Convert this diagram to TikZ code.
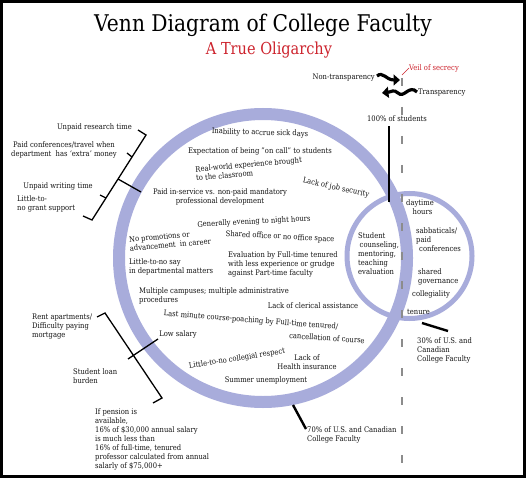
\documentclass[tikz,border=0pt]{standalone}
\usepackage{fontspec}
\setmainfont{DejaVu Serif}[FakeStretch=0.88]
\usetikzlibrary{arrows.meta}
\definecolor{ringc}{RGB}{168,172,219}
\definecolor{redc}{RGB}{205,35,45}
\definecolor{dashc}{RGB}{140,140,140}
\begin{document}
\begin{tikzpicture}[x=1pt,y=-1pt,
  txt/.style={inner sep=0pt, font=\fontsize{7.7}{9}\selectfont, text=black!92, align=left},
  ctxt/.style={txt, align=center},
  lead/.style={draw=black, line width=1.3pt},
  thick lead/.style={draw=black, line width=2.4pt},
  wavy/.style={line width=3.2pt, -{Triangle[length=6.5pt,width=11pt]}}]
\useasboundingbox (0,0) rectangle (526,478);
\fill[white] (0,0) rectangle (526,478);
\draw[line width=3pt] (1.5,1.5) rectangle (524.5,476.5);

% title
\node[inner sep=0pt, font=\fontsize{23}{26}\selectfont] (title) at (263,25) {Venn Diagram of College Faculty};
\node[inner sep=0pt, font=\fontsize{16.5}{19}\selectfont, text=redc] (subtitle) at (269,50) {A True Oligarchy};

% rings
\draw[ringc, line width=12pt] (263,258) circle[radius=144];
\draw[ringc, line width=5pt] (409.5,256) circle[radius=62.5];
\coordinate (dtop) at (402,75);
\coordinate (dbot) at (402,472);
\draw[dashc, line width=1.4pt, dash pattern=on 8pt off 21pt, dash phase=-3pt] (dtop) -- (dbot);

% top right
\node[txt, text=redc, anchor=west] (veil) at (409,68) {Veil of secrecy};
\draw[redc, line width=0.6pt] (dtop) -- (veil.west);
\node[txt, anchor=east] (nontr) at (375,78) {Non-transparency};
\node[txt, anchor=west] (transp) at (418,93) {Transparency};
\coordinate (na) at (377,76);
\coordinate (nb) at (400,80);
\draw[wavy] (na) .. controls (383,71) and (386,80) .. (nb);
\coordinate (ta) at (417,92);
\coordinate (tb) at (382,93);
\draw[wavy] (ta) .. controls (409,84) and (404,99) .. (398,93) .. controls (394,89) and (391,92) .. (tb);
\node[txt] (hund) at (397,119) {100\% of students};
\coordinate (hl) at (389,202);
\draw[thick lead] (hund.south -| hl) ++(0,4) -- (hl);

% inside big circle
\node[txt, rotate=-1.5] (sick) at (260,133) {Inability to accrue sick days};
\node[txt] (oncall) at (260,151) {Expectation of being "on call" to students};
\node[txt, rotate=5] (real) at (249,169) {Real-world experience brought\\to the classroom};
\node[txt, rotate=-12] (jobsec) at (336,188) {Lack of job security};
\node[ctxt] (inserv) at (220,196.5) {Paid in-service vs. non-paid mandatory\\professional development};
\node[txt, rotate=3] (evening) at (254,222) {Generally evening to night hours};
\node[txt, rotate=5] (promo) at (170,240.5) {No promotions or\\advancement\ \ in career};
\node[txt, rotate=-3] (office) at (280,237) {Shared office or no office space};
\node[txt, anchor=west] (say) at (129,266.5) {Little-to-no say\\in departmental matters};
\node[txt, anchor=west] (eval) at (228,264) {Evaluation by Full-time tenured\\with less experience or grudge\\against Part-time faculty};
\node[txt, anchor=west] (campus) at (139,295.5) {Multiple campuses; multiple administrative\\procedures};
\node[txt, anchor=west] (student) at (358,254) {Student\\\hspace{1.5pt}counseling,\\mentoring,\\teaching\\evaluation};
\node[txt] (clerical) at (313,306) {Lack of clerical assistance};
\node[txt, rotate=-4.5] (poach) at (251,320.5) {Last minute course-poaching by Full-time tenured/};
\node[txt, rotate=-4] (cancel) at (327,338) {cancellation of course};
\node[txt] (lowsal) at (178,334) {Low salary};
\node[txt, rotate=9] (respect) at (237,359) {Little-to-no collegial respect};
\node[ctxt] (health) at (307,362.5) {Lack of\\Health insurance};
\node[txt] (summer) at (266,380) {Summer unemployment};

% small circle / right
\node[ctxt] (daytime) at (420,207.5) {daytime\\\hspace{5pt}hours};
\node[txt, anchor=west] (sabb) at (416,240) {sabbaticals/\\paid\\\hspace{3pt}conferences};
\node[txt, anchor=west] (gov) at (418,277) {shared\\governance};
\node[txt, anchor=west] (coll) at (412,294) {collegiality};
\node[txt, anchor=west] (tenure) at (407,312) {tenure};
\node[txt, anchor=west] (thirty) at (417,350) {30\% of U.S. and\\Canadian\\College Faculty};
\coordinate (tl1) at (422,323);
\coordinate (tl2) at (448,331);
\draw[thick lead] (tl1) -- (tl2);
\node[txt, anchor=west] (seventy) at (307,434.5) {70\% of U.S. and Canadian\\College Faculty};
\coordinate (sl1) at (293,405);
\coordinate (sl2) at (306,429);
\draw[thick lead] (sl1) -- (sl2);

% left upper bracket
\node[txt, anchor=east] (research) at (132,127) {Unpaid research time};
\node[ctxt] (confs) at (64,149.5) {Paid conferences/travel when\\department\ \ has `extra' money};
\node[txt] (writing) at (58,186) {Unpaid writing time};
\node[txt, anchor=west] (grant) at (17,204) {Little-to-\\no grant support};
\coordinate (b1a) at (138,130);
\coordinate (b1b) at (146,135);
\coordinate (b1c) at (92,220);
\coordinate (b1d) at (83,216);
\draw[lead] (b1a) -- (b1b) -- (b1c) -- (b1d);
\coordinate (t1a) at (132,157);
\coordinate (t1b) at (127,153);
\draw[lead] (t1a) -- (t1b);
\coordinate (t2a) at (106,198);
\coordinate (t2b) at (100,195);
\draw[lead] (t2a) -- (t2b);
\coordinate (c1a) at (118,179);
\coordinate (c1b) at (141,192);
\draw[lead] (c1a) -- (c1b);

% left lower bracket
\node[txt, anchor=west] (rent) at (32,327) {Rent apartments/\\Difficulty paying\\mortgage};
\node[txt, anchor=west] (loan) at (73,376.5) {Student loan\\burden};
\node[txt, anchor=west] (pension) at (95,439) {If pension is\\available,\\16\% of \$30,000 annual salary\\is much less than\\16\% of full-time, tenured\\professor calculated from annual\\salarly of \$75,000+};
\coordinate (b2a) at (97,317);
\coordinate (b2b) at (105,313);
\coordinate (b2c) at (162,398);
\coordinate (b2d) at (153,403);
\draw[lead] (b2a) -- (b2b) -- (b2c) -- (b2d);
\coordinate (c2a) at (158,339);
\coordinate (c2b) at (128,359);
\draw[lead] (c2a) -- (c2b);
\end{tikzpicture}
\end{document}
